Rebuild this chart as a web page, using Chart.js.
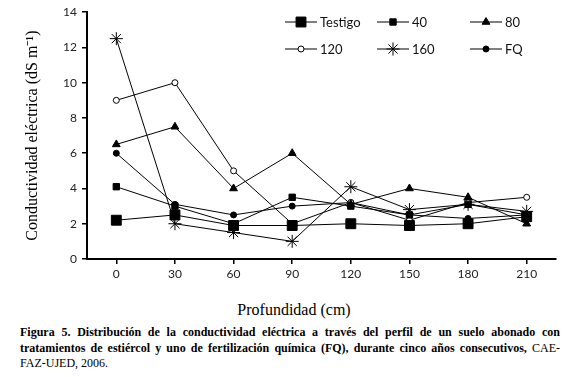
<!DOCTYPE html>
<html>
<head>
<meta charset="utf-8">
<script src="https://cdn.jsdelivr.net/npm/chart.js@4/dist/chart.umd.min.js"></script>
<style>
  html, body { margin: 0; padding: 0; background: #fff; }
  #wrap { position: relative; width: 571px; height: 377px; overflow: hidden; }
  #grafica { position: absolute; left: 0; top: 0; }
  #titulo-x { position: absolute; left: 0; width: 588px; top: 301px; text-align: center;
    font-family: "Liberation Serif", serif; font-size: 16px; color: #000; }
  #pie { position: absolute; left: 20px; width: 540px; top: 325px;
    font-family: "Liberation Serif", serif; font-size: 12px; line-height: 15.5px; color: #000; }
  #pie .linea { text-align: justify; text-align-last: justify; white-space: nowrap; font-weight: bold; }
  #pie .ultima { text-align: left; }
  #pie .normal { font-weight: normal; }
</style>
</head>
<body>
<div id="wrap">
  <canvas id="grafica" width="571" height="290"></canvas>
  <div id="titulo-x">Profundidad (cm)</div>
  <div id="pie">
    <div class="linea">Figura 5. Distribución de la conductividad eléctrica a través del perfil de un suelo abonado con</div>
    <div class="linea">tratamientos de estiércol y uno de fertilización química (FQ), durante cinco años consecutivos, <span class="normal">CAE-</span></div>
    <div class="ultima">FAZ-UJED, 2006.</div>
  </div>
</div>
<script>
// profundidad (cm)
const profundidades = ['0', '30', '60', '90', '120', '150', '180', '210'];

// conductividad eléctrica (dS m-1) por tratamiento
const testigo = [2.2, 2.5, 1.9, 1.9, 2.0, 1.9, 2.0, 2.4];
const trat40 = [4.1, 3.0, 2.0, 3.5, 3.0, 2.5, 3.1, 2.5];
const trat80 = [6.5, 7.5, 4.0, 6.0, 3.1, 4.0, 3.5, 2.0];
const trat120 = [9.0, 10.0, 5.0, 2.0, 3.2, 2.2, 3.2, 3.5];
const trat160 = [12.5, 2.0, 1.5, 1.0, 4.1, 2.8, 3.1, 2.7];
const fq = [6.0, 3.1, 2.5, 3.0, 3.2, 2.5, 2.3, 2.5];

const nombres = ['Testigo', '40', '80', '120', '160', 'FQ'];
const yTicks = [0, 2, 4, 6, 8, 10, 12, 14];

function serie(label, data, estilo, radio, relleno) {
    return {
        label: label,
        data: data,
        borderColor: '#000',
        borderWidth: 1,
        pointStyle: estilo,
        pointRadius: radio,
        pointBackgroundColor: relleno,
        pointBorderColor: '#000',
        pointBorderWidth: 1,
        tension: 0,
        fill: false
    };
}

// leyenda dibujada a mano: linea + marcador, 3 columnas x 2 filas
const leyenda = {
    id: 'leyenda',
    afterDraw(chart) {
        const ctx = chart.ctx;
        const cols = [285, 377, 470];
        const filas = [22, 49];
        chart.data.datasets.forEach(function (ds, i) {
            const x0 = cols[i % 3];
            const y = filas[Math.floor(i / 3)];
            ctx.save();
            ctx.strokeStyle = '#000';
            ctx.lineWidth = 1;
            ctx.beginPath();
            ctx.moveTo(x0, y);
            ctx.lineTo(x0 + 32, y);
            ctx.stroke();
            ctx.fillStyle = ds.pointBackgroundColor;
            ctx.strokeStyle = '#000';
            Chart.helpers.drawPoint(ctx, {
                pointStyle: ds.pointStyle,
                radius: ds.pointRadius,
                rotation: 0,
                borderWidth: 1
            }, x0 + 16, y);
            ctx.fillStyle = '#111';
            ctx.font = '13px Lato';
            ctx.textBaseline = 'middle';
            ctx.fillText(ds.label, x0 + 35, y + 1);
            ctx.restore();
        });
    }
};

const ctx = document.getElementById('grafica').getContext('2d');
new Chart(ctx, {
    type: 'line',
    data: {
        labels: profundidades,
        datasets: [
            serie(nombres[0], testigo, 'rect', 7, '#000'),
            serie(nombres[1], trat40, 'rect', 4.5, '#000'),
            serie(nombres[2], trat80, 'triangle', 4.5, '#000'),
            serie(nombres[3], trat120, 'circle', 3, '#fff'),
            serie(nombres[4], trat160, 'star', 6.5, '#000'),
            serie(nombres[5], fq, 'circle', 3, '#000')
        ]
    },
    options: {
        responsive: false,
        animation: false,
        events: [],
        layout: { padding: { left: 10, right: 15, top: 9, bottom: 0 } },
        plugins: {
            legend: { display: false },
            tooltip: { enabled: false }
        },
        scales: {
            x: {
                offset: true,
                grid: { display: true, drawOnChartArea: false, drawTicks: true, tickLength: 5, color: '#000', lineWidth: 1.5 },
                border: { display: true, color: '#000', width: 2 },
                ticks: { color: '#222', font: { family: 'Lato', size: 12 }, padding: 3, maxRotation: 0 },
                afterFit: function (scale) { scale.height = 31; }
            },
            y: {
                min: 0,
                max: 14,
                afterBuildTicks: function (scale) { scale.ticks = yTicks.map(v => ({ value: v })); },
                grid: { display: true, drawOnChartArea: false, drawTicks: true, tickLength: 5, color: '#000', lineWidth: 1.5 },
                border: { display: true, color: '#000', width: 2 },
                ticks: { color: '#222', font: { family: 'Lato', size: 12 }, padding: 5 },
                title: {
                    display: true,
                    text: 'Conductividad eléctrica (dS m⁻¹)',
                    color: '#000',
                    font: { family: 'Liberation Serif', size: 16 },
                    padding: { top: 13, bottom: 0 }
                },
                afterFit: function (scale) { scale.width = 77; }
            }
        }
    },
    plugins: [leyenda]
});
</script>
</body>
</html>
